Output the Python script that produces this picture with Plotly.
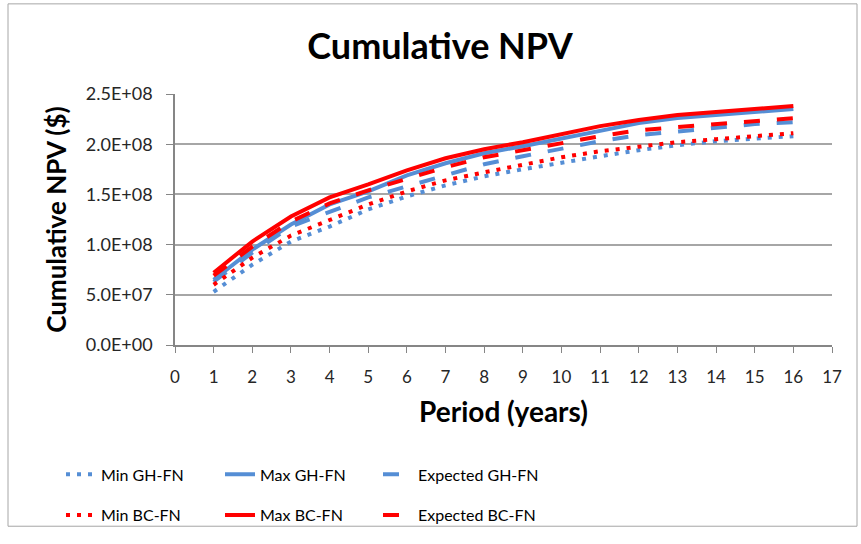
import plotly.graph_objects as go

# Period (years)
periods = list(range(1, 17))

# Cumulative NPV ($ millions) per scenario
min_gh = [53, 80, 103, 118, 135, 148, 159, 168, 175, 181, 188, 194, 199, 203, 206, 208]
max_gh = [65, 95, 120, 140, 153, 169, 181, 191, 198, 206, 213, 221, 226, 229, 232, 235]
exp_gh = [63, 92, 118, 133, 147, 158, 169, 180, 188, 196, 203, 209, 213, 217, 220, 222]
min_bc = [60, 87, 109, 124, 140, 153, 164, 172, 180, 187, 193, 198, 202, 205, 208, 211]
max_bc = [72, 103, 128, 147, 160, 174, 186, 195, 202, 210, 218, 224, 229, 232, 235, 238]
exp_bc = [69, 98, 123, 141, 154, 166, 177, 187, 194, 202, 208, 214, 217, 221, 223, 226]

y_ticks = [0, 5e7, 1e8, 1.5e8, 2e8, 2.5e8]
y_ticktext = [f"{v:.1E}" for v in y_ticks]

BLUE = "#558ED5"
RED = "#FF0000"
FONT = "Lato"

series = [
    ("Min GH-FN", min_gh, BLUE, "4px,7px", "legend", "g1"),
    ("Max GH-FN", max_gh, BLUE, "solid", "legend2", "g2"),
    ("Expected GH-FN", exp_gh, BLUE, "16px,17px", "legend3", "g3"),
    ("Min BC-FN", min_bc, RED, "4px,7px", "legend", "g4"),
    ("Max BC-FN", max_bc, RED, "solid", "legend2", "g5"),
    ("Expected BC-FN", exp_bc, RED, "16px,17px", "legend3", "g6"),
]

fig = go.Figure()
for name, vals, color, dash, leg, grp in series:
    fig.add_trace(go.Scatter(
        x=periods,
        y=[v * 1e6 for v in vals],
        mode="lines",
        name=name,
        line=dict(color=color, width=4, dash=dash),
        legend=leg,
        legendgroup=grp,
    ))

# Plot area geometry in pixels
W, H = 861, 544
L, R, T, B = 175, 29, 94, 191
pw, ph = W - L - R, H - T - B


def px_x(p):
    return (p - L) / pw


def px_y(p):
    return (H - B - p) / ph


leg_common = dict(
    orientation="v",
    yanchor="top",
    xanchor="left",
    y=px_y(469),
    font=dict(family=FONT, size=16, color="#000000"),
    bgcolor="rgba(0,0,0,0)",
    tracegroupgap=17,
    itemwidth=30,
)

fig.update_layout(
    width=W,
    height=H,
    margin=dict(l=L, r=R, t=T, b=B),
    paper_bgcolor="white",
    plot_bgcolor="white",
    font=dict(family=FONT, color="#000000"),
    title=dict(
        text="<b>Cumulative NPV</b>",
        x=440 / W, xref="container", xanchor="center",
        y=1 - 46 / H, yref="container", yanchor="middle",
        font=dict(family=FONT, size=36, color="#000000"),
    ),
    xaxis=dict(
        range=[0, 17],
        tickmode="linear", tick0=0, dtick=1,
        showgrid=False,
        showline=True, linecolor="#868686", linewidth=1.5,
        ticks="outside", ticklen=6, tickcolor="#868686",
        ticklabelstandoff=10,
        tickfont=dict(family=FONT, size=17, color="#262626"),
        title=dict(text="<b>Period (years)</b>",
                   font=dict(family=FONT, size=28, color="#000000"),
                   standoff=16),
        zeroline=False,
    ),
    yaxis=dict(
        range=[0, 2.5e8],
        tickvals=y_ticks, ticktext=y_ticktext,
        showgrid=True, gridcolor="#a6a6a6", gridwidth=1.5,
        showline=True, linecolor="#868686", linewidth=1.5,
        ticks="outside", ticklen=7, tickcolor="#868686",
        ticklabelstandoff=10,
        tickfont=dict(family=FONT, size=18, color="#262626"),
        title=dict(text="<b>Cumulative NPV ($)</b>",
                   font=dict(family=FONT, size=26, color="#000000"),
                   standoff=12),
        zeroline=False,
    ),
    legend=dict(x=px_x(61), **leg_common),
    legend2=dict(x=px_x(220), **leg_common),
    legend3=dict(x=px_x(378), **leg_common),
    shapes=[dict(
        type="rect", xref="paper", yref="paper",
        x0=px_x(8), x1=px_x(857), y0=px_y(540), y1=px_y(1),
        line=dict(color="#a6a6a6", width=1),
        fillcolor="rgba(0,0,0,0)", layer="below",
    )],
)

fig.write_html("out.html")
